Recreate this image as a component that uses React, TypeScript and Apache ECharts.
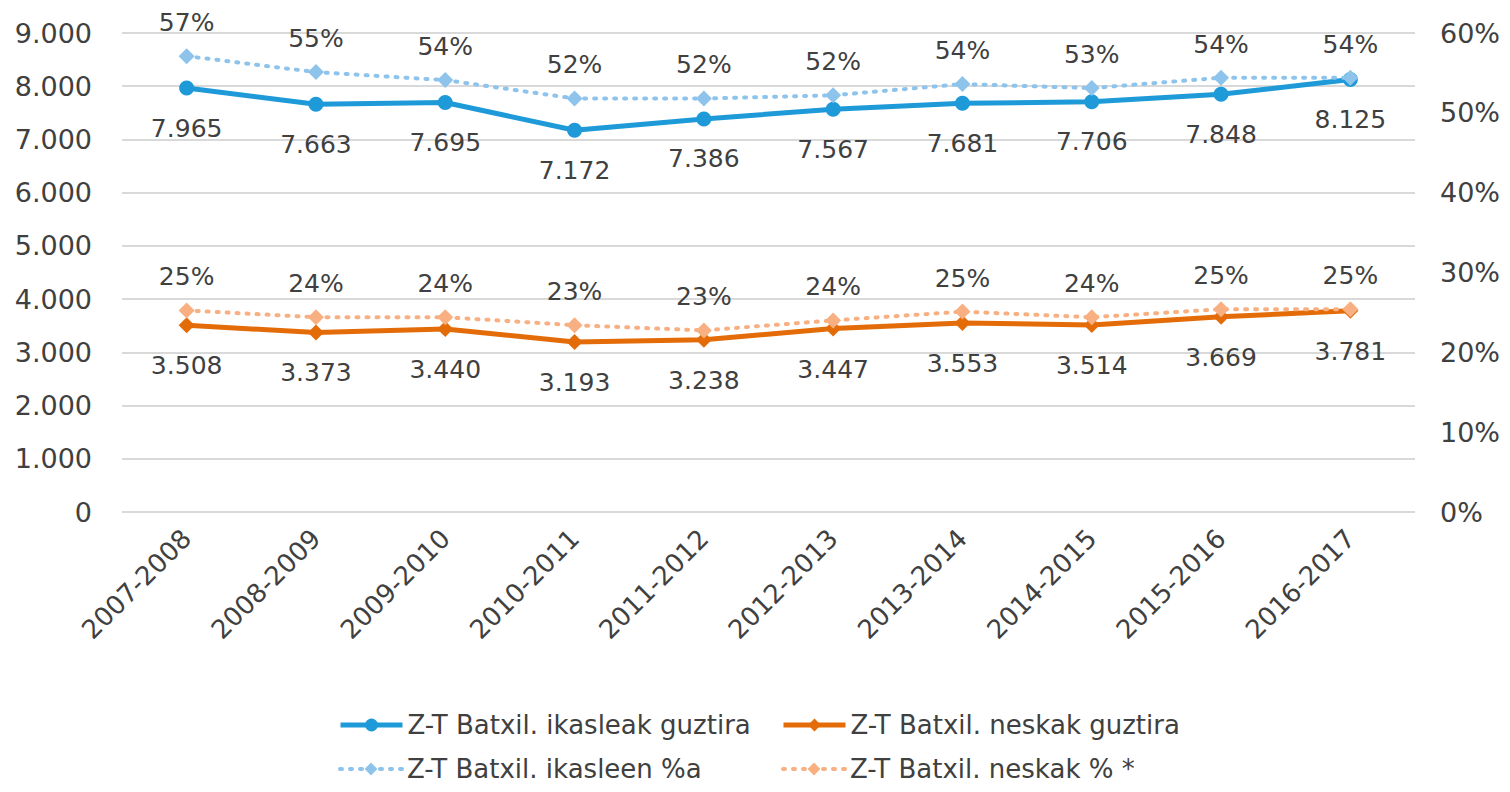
import React, { useEffect, useRef } from "react";
import * as echarts from "echarts";

const categories = ["2007-2008", "2008-2009", "2009-2010", "2010-2011", "2011-2012", "2012-2013", "2013-2014", "2014-2015", "2015-2016", "2016-2017"];
const ikasleakGuztira = [7965, 7663, 7695, 7172, 7386, 7567, 7681, 7706, 7848, 8125];
const neskakGuztira = [3508, 3373, 3440, 3193, 3238, 3447, 3553, 3514, 3669, 3781];
const ikasleenPct = [0.571, 0.551, 0.541, 0.518, 0.518, 0.522, 0.536, 0.531, 0.544, 0.544];
const neskakPct = [0.2525, 0.244, 0.244, 0.234, 0.2275, 0.24, 0.251, 0.244, 0.254, 0.254];

const leftTicks = { min: 0, max: 9000, interval: 1000 };
const rightTicks = { min: 0, max: 0.6, interval: 0.1 };

const FONT = "DejaVu Sans";
const TXT = "#404040";

const fmtThousands = (v: number) => String(Math.round(v)).replace(/\B(?=(\d{3})+(?!\d))/g, ".");
const fmtPct = (v: number) => Math.round(v * 100) + "%";

export default function App() {
  const ref = useRef<HTMLDivElement>(null);
  useEffect(() => {
    if (!ref.current) return;
    const chart = echarts.init(ref.current, null, { renderer: "svg" });
    const labelBase = { show: true, color: TXT, fontFamily: FONT, fontSize: 25 };
    const legendBase = {
      orient: "horizontal" as const,
      itemWidth: 62,
      itemHeight: 16,
      itemGap: 6,
      lineStyle: { width: "inherit" },
      textStyle: { color: TXT, fontFamily: FONT, fontSize: 26 },
      selectedMode: false,
    };
    chart.setOption({
      animation: false,
      backgroundColor: "#ffffff",
      grid: { left: 122, right: 95, top: 33, bottom: 280, containLabel: false },
      legend: [
        { ...legendBase, data: ["Z-T Batxil. ikasleak guztira"], left: 333, top: 707 },
        { ...legendBase, data: ["Z-T Batxil. neskak guztira"], left: 776, top: 707 },
        { ...legendBase, data: ["Z-T Batxil. ikasleen %a"], left: 333, top: 751 },
        { ...legendBase, data: ["Z-T Batxil. neskak % *"], left: 776, top: 751 },
      ],
      xAxis: {
        type: "category",
        data: categories,
        boundaryGap: true,
        axisLine: { show: false },
        axisTick: { show: false },
        axisLabel: { rotate: 45, color: TXT, fontFamily: FONT, fontSize: 26, margin: 22, interval: 0 },
      },
      yAxis: [
        {
          type: "value",
          ...leftTicks,
          axisLine: { show: false },
          axisTick: { show: false },
          axisLabel: { color: TXT, fontFamily: FONT, fontSize: 27, margin: 30, formatter: (v: number) => fmtThousands(v) },
          splitLine: { lineStyle: { color: "#d9d9d9", width: 2 } },
        },
        {
          type: "value",
          ...rightTicks,
          position: "right",
          axisLine: { show: false },
          axisTick: { show: false },
          axisLabel: { color: TXT, fontFamily: FONT, fontSize: 27, margin: 25, formatter: (v: number) => fmtPct(v) },
          splitLine: { show: false },
        },
      ],
      series: [
        {
          name: "Z-T Batxil. ikasleak guztira",
          type: "line",
          yAxisIndex: 0,
          data: ikasleakGuztira,
          color: "#1E9AD8",
          lineStyle: { width: 5, color: "#1E9AD8" },
          symbol: "circle",
          symbolSize: 15,
          itemStyle: { color: "#1E9AD8" },
          label: { ...labelBase, position: "bottom", distance: 20, formatter: (p: any) => fmtThousands(p.value) },
          z: 2,
        },
        {
          name: "Z-T Batxil. neskak guztira",
          type: "line",
          yAxisIndex: 0,
          data: neskakGuztira,
          color: "#E36C09",
          lineStyle: { width: 5, color: "#E36C09" },
          symbol: "diamond",
          symbolSize: 16,
          itemStyle: { color: "#E36C09" },
          label: { ...labelBase, position: "bottom", distance: 20, formatter: (p: any) => fmtThousands(p.value) },
          z: 2,
        },
        {
          name: "Z-T Batxil. ikasleen %a",
          type: "line",
          yAxisIndex: 1,
          data: ikasleenPct,
          color: "#8EC4EC",
          lineStyle: { width: 4, color: "#8EC4EC", type: [2, 8], cap: "round" },
          symbol: "diamond",
          symbolSize: 16,
          itemStyle: { color: "#8EC4EC" },
          label: { ...labelBase, position: "top", distance: 13, formatter: (p: any) => fmtPct(p.value) },
          z: 3,
        },
        {
          name: "Z-T Batxil. neskak % *",
          type: "line",
          yAxisIndex: 1,
          data: neskakPct,
          color: "#F8B083",
          lineStyle: { width: 4, color: "#F8B083", type: [2, 8], cap: "round" },
          symbol: "diamond",
          symbolSize: 16,
          itemStyle: { color: "#F8B083" },
          label: { ...labelBase, position: "top", distance: 13, formatter: (p: any) => fmtPct(p.value) },
          z: 3,
        },
      ],
    });
    return () => chart.dispose();
  }, []);
  return <div ref={ref} style={{ width: 1510, height: 792, position: "absolute", left: 0, top: 0 }} />;
}
